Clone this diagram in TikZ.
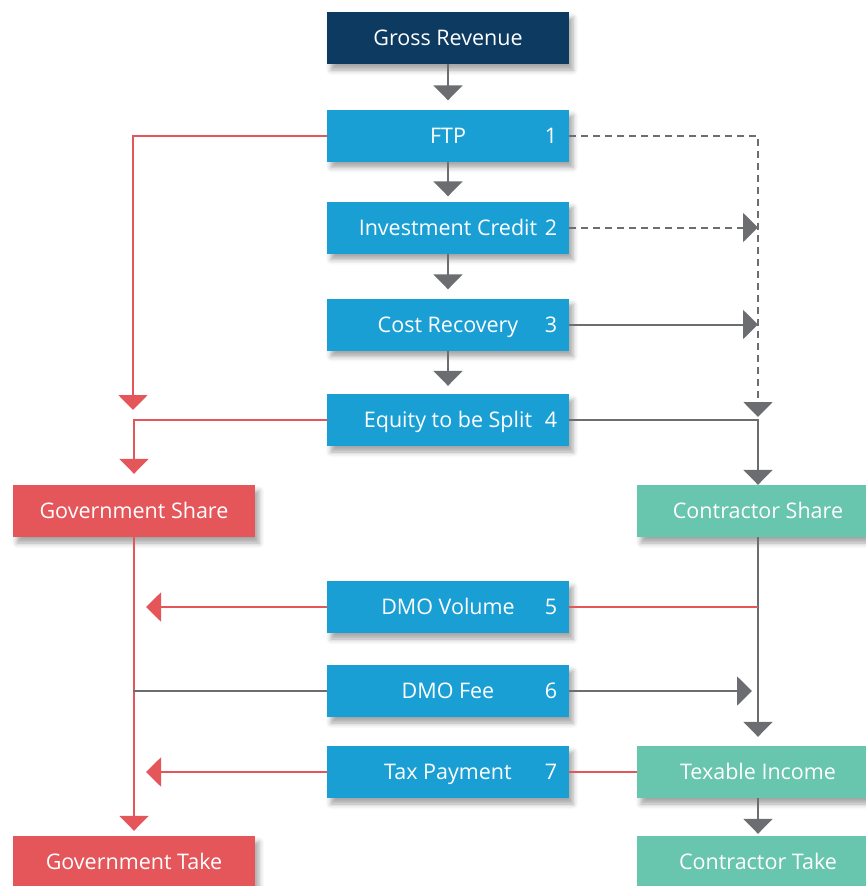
\documentclass[tikz,border=0pt]{standalone}
\usepackage{fontspec}
\setmainfont{Open Sans}
\usetikzlibrary{arrows.meta,shadows.blur,calc}
\definecolor{navy}{HTML}{0C3A60}
\definecolor{bluebox}{HTML}{1A9FD5}
\definecolor{redbox}{HTML}{E5565B}
\definecolor{tealbox}{HTML}{68C5AE}
\definecolor{lgray}{HTML}{6C6D70}
\tikzset{
  box/.style={rectangle, minimum width=242pt, minimum height=52pt, inner sep=0pt,
    text=white, font=\fontsize{21.5}{25}\selectfont, text height=15pt, text depth=0pt,
    blur shadow={shadow xshift=4pt, shadow yshift=-6pt, shadow blur radius=5pt, shadow opacity=35}},
  navybox/.style={box, fill=navy},
  bbox/.style={box, fill=bluebox},
  rbox/.style={box, fill=redbox},
  tbox/.style={box, fill=tealbox},
  numlab/.style={text=white, font=\fontsize{21.5}{25}\selectfont, inner sep=0pt, text height=15pt, text depth=0pt},
  gline/.style={draw=lgray, line width=2pt},
  rline/.style={draw=redbox, line width=2pt},
  garrow/.style={gline, -{Triangle[width=29pt,length=15pt,fill=lgray]}},
  rarrow/.style={rline, -{Triangle[width=29pt,length=15pt,fill=redbox]}},
  gdash/.style={gline, dash pattern=on 7pt off 5pt, -{Triangle[width=29pt,length=15pt,fill=lgray]}},
}
\begin{document}
\begin{tikzpicture}[x=1pt, y=-1pt]
\useasboundingbox (0,0) rectangle (866,886);
\clip (0,0) rectangle (866,886);

% boxes
\node[navybox] (gr) at (448,38) {Gross Revenue};
\node[bbox] (ftp) at (448,135.5) {FTP};
\node[bbox] (ic) at (448,227.5) {Investment Credit};
\node[bbox] (cr) at (448,324.5) {Cost Recovery};
\node[bbox] (eq) at (448,420) {Equity to be Split};
\node[rbox] (gs) at (134,511) {Government Share};
\node[tbox] (cs) at (758,511) {Contractor Share};
\node[bbox] (dmov) at (448,607) {DMO Volume};
\node[bbox] (dmof) at (448,691) {DMO Fee};
\node[bbox] (tax) at (448,772) {Tax Payment};
\node[tbox] (ti) at (758,772) {Texable Income};
\node[rbox] (gt) at (134,862) {Government Take};
\node[tbox] (ct) at (758,862) {Contractor Take};

% numbers
\node[numlab] (n1) at (551,135.5) {1};
\node[numlab] (n2) at (551,227.5) {2};
\node[numlab] (n3) at (551,324.5) {3};
\node[numlab] (n4) at (551,420) {4};
\node[numlab] (n5) at (551,607) {5};
\node[numlab] (n6) at (551,691) {6};
\node[numlab] (n7) at (551,772) {7};

% free-end coordinates
\coordinate (lftp) at (133,410);
\coordinate (rftp) at (758,417);
\coordinate (ric) at (758,227.5);
\coordinate (rcr) at (758,324.5);
\coordinate (dvr) at (758,607);
\coordinate (dvl) at (146,607);
\coordinate (dfl) at (133,691);
\coordinate (dfr) at (752,691);
\coordinate (txl) at (146,772);

% vertical main flow
\draw[garrow, shorten >=9pt] (gr) -- (ftp);
\draw[garrow, shorten >=5pt] (ftp) -- (ic);
\draw[garrow, shorten >=9pt] (ic) -- (cr);
\draw[garrow, shorten >=8pt] (cr) -- (eq);

% left (government) side
\draw[rarrow] (ftp.west) -| (lftp);
\draw[rarrow, shorten >=11pt] (eq.west) -| (gs.north);
\draw[rarrow, shorten >=5pt] (gs.south) -- (gt.north);

% right (contractor) side
\draw[gdash] (ftp.east) -| (rftp);
\draw[gdash] (ic.east) -- (ric);
\draw[garrow] (cr.east) -- (rcr);
\draw[garrow] (eq.east) -| (cs.north);
\draw[garrow, shorten >=9pt] (cs.south) -- (ti.north);
\draw[garrow, shorten >=2pt] (ti.south) -- (ct.north);

% DMO and tax
\draw[rline] (dvr) -- (dmov.east);
\draw[rarrow] (dmov.west) -- (dvl);
\draw[gline] (dfl) -- (dmof.west);
\draw[garrow] (dmof.east) -- (dfr);
\draw[rline] (ti.west) -- (tax.east);
\draw[rarrow] (tax.west) -- (txl);
\end{tikzpicture}
\end{document}
